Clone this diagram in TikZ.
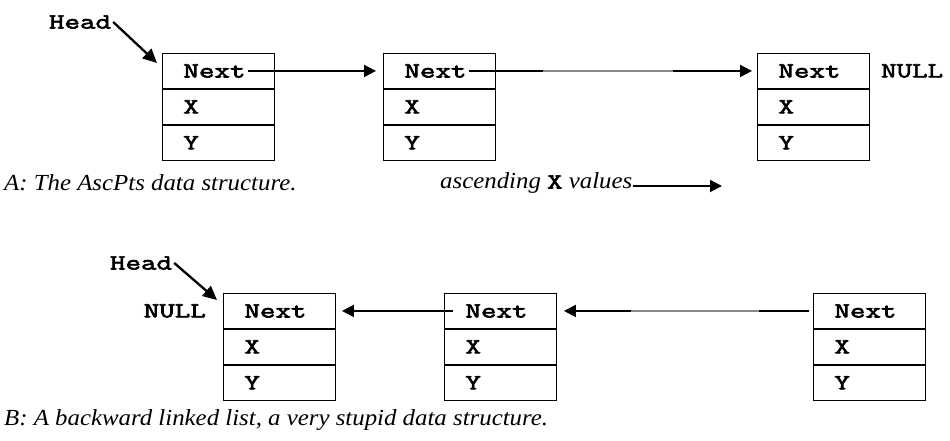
\documentclass[tikz,border=0pt]{standalone}
\usepackage{fontspec}
\setmainfont{Liberation Serif}[FakeStretch=1.08]
\newfontfamily\courfont[FakeStretch=1.4,FakeBold=3]{Latin Modern Mono}
\usetikzlibrary{arrows.meta,calc}
\definecolor{midgray}{RGB}{136,136,136}

\tikzset{
	cell/.style={draw, line width=0.9pt, minimum height=35pt, text width=70pt, inner xsep=21pt, inner ysep=0pt, align=left, font=\courfont\fontsize{21.5}{23}\selectfont},
	code/.style={font=\courfont\fontsize{21.5}{23}\selectfont, inner sep=0pt},
	caption/.style={font=\fontsize{23}{27}\selectfont\itshape, inner sep=0pt, anchor=west},
	link/.style={line width=1.9pt, -{Triangle[length=12pt,width=12pt]}},
	headlink/.style={line width=2.3pt, -{Triangle[length=14pt,width=13pt]}},
	faded/.style={line width=1.9pt, draw=midgray}
}

\begin{document}
\begin{tikzpicture}[x=1pt,y=-1pt]
	\useasboundingbox (0,0) rectangle (950,441);
	
	% records: name / left / top
	\foreach \n/\x/\y in {a1/162/53, a2/383/53, a3/757/53, b1/223/293, b2/444/293, b3/813/293} {
		\node[cell, anchor=north west] (\n n) at (\x,\y) {Next};
		\node[cell, anchor=north] (\n x) at (\n n.south) {X};
		\node[cell, anchor=north] (\n y) at (\n x.south) {Y};
	}
	
	% A: forward list
	\node[code] (headA) at (80,22) {Head};
	\node[code, anchor=west] (nullA) at ([xshift=11pt]a3n.east) {NULL};
	\draw[headlink] ([xshift=2pt]headA.east) -- ([xshift=-5pt,yshift=-10pt]a1n.north west);
	\draw[link, shorten >=7pt] ([xshift=30pt]a1n.center) -- (a2n.west);
	\draw[link, shorten >=5pt] ([xshift=30pt]a2n.center) -- (a3n.west);
	\draw[faded] ($(a2n.east)!0.18!(a3n.west)$) -- ($(a2n.east)!0.68!(a3n.west)$);
	
	\node[caption] (capA) at (4,183) {A: The AscPts data structure.};
	\node[caption] (asc) at (440,183) {ascending \textup{\courfont\fontsize{21.5}{23}\selectfont X} values};
	\coordinate (ascEnd) at (722,186);
	\draw[link] ([yshift=-3pt]asc.east) -- (ascEnd);
	
	% B: backward list
	\node[code] (headB) at (141,263) {Head};
	\node[code, anchor=east] (nullB) at ([xshift=-17pt]b1n.west) {NULL};
	\draw[headlink] ([xshift=2pt]headB.east) -- ([xshift=-6pt,yshift=-7pt]b1n.north west);
	\draw[link, shorten <=4pt, shorten >=7pt] (b3n.west) -- (b2n.east);
	\draw[faded] ($(b2n.east)!0.29!(b3n.west)$) -- ($(b2n.east)!0.79!(b3n.west)$);
	\draw[link, shorten >=6pt] ([xshift=9pt]b2n.west) -- (b1n.east);
	
	\node[caption] (capB) at (4,420) {B: A backward linked list, a very stupid data structure.};
\end{tikzpicture}
\end{document}
